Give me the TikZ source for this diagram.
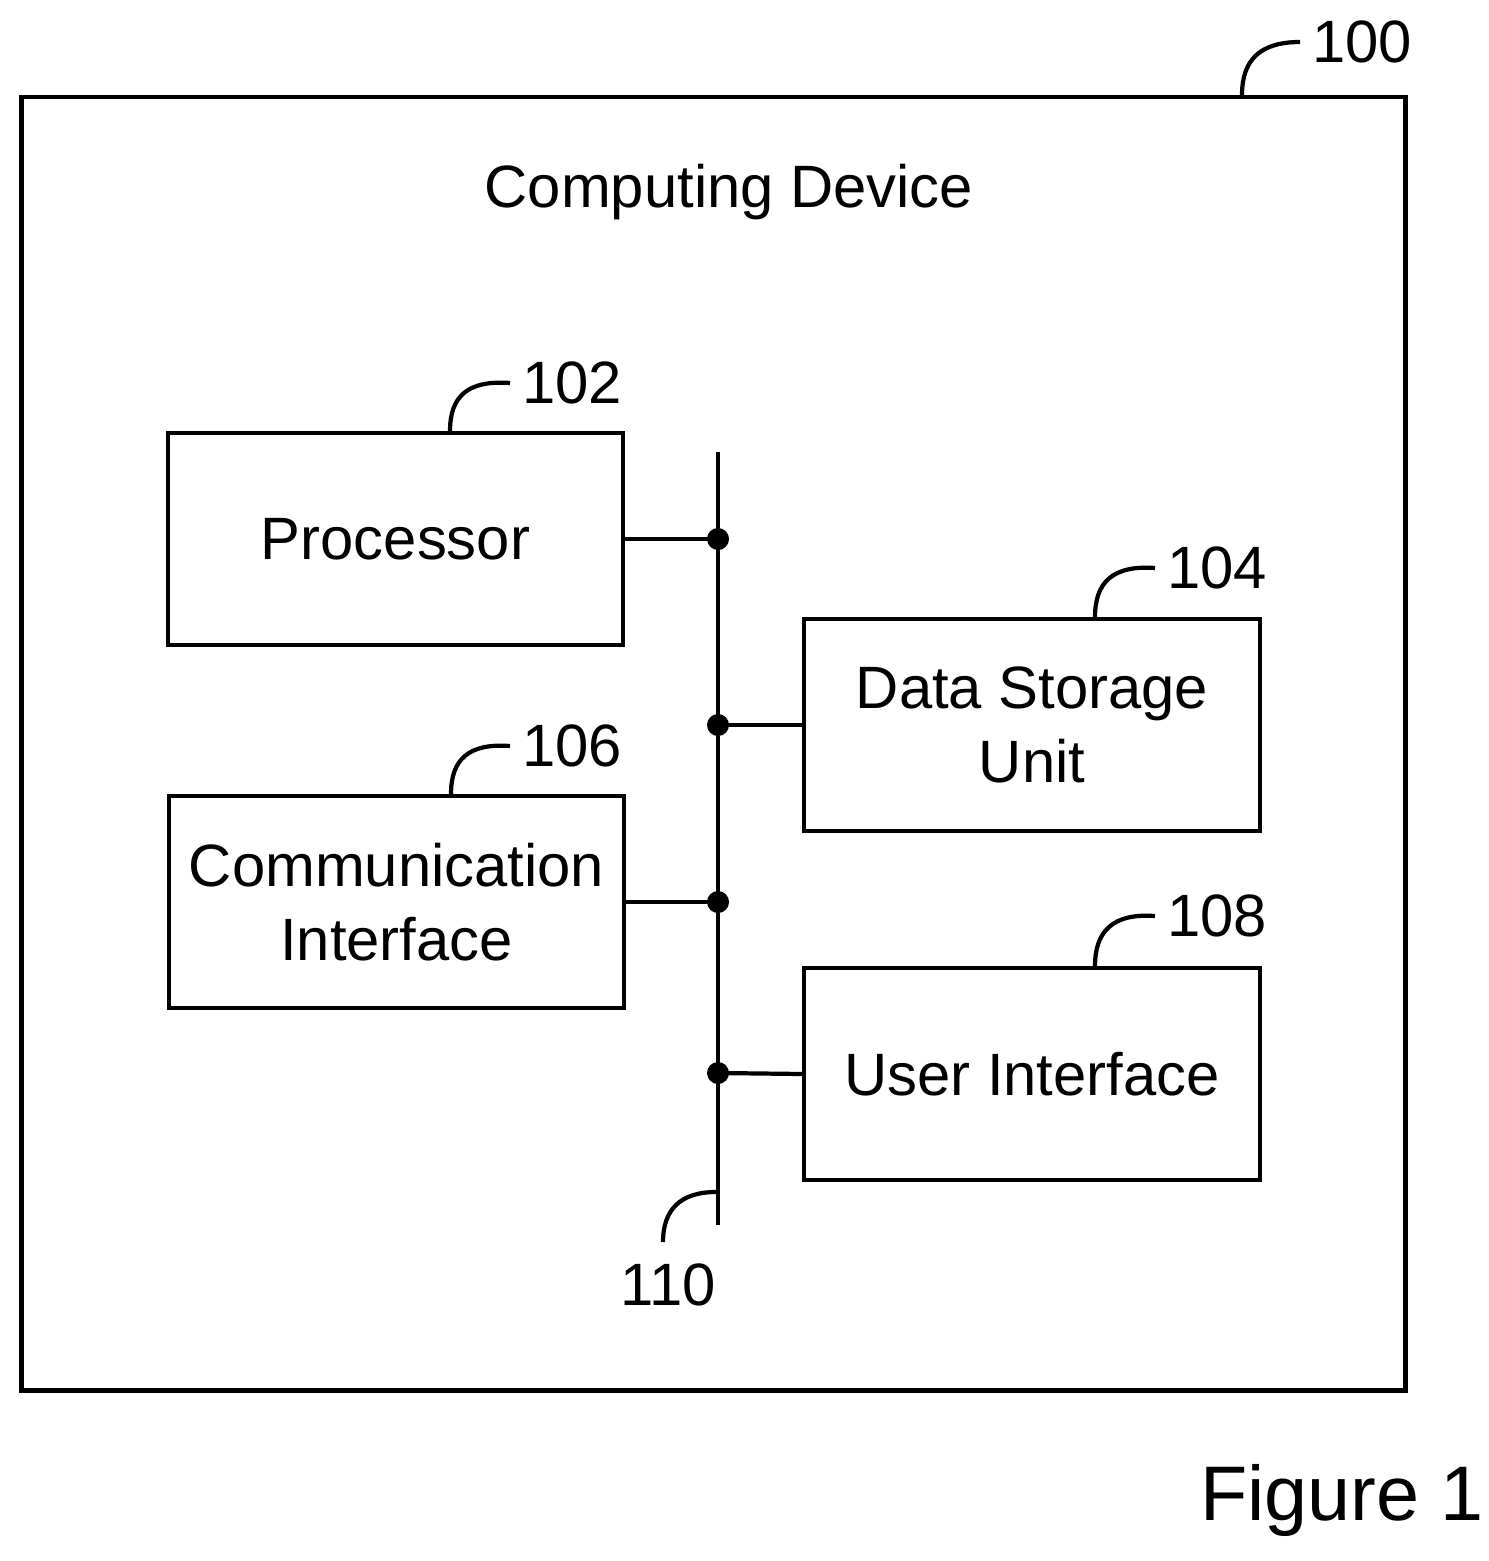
\documentclass[tikz,border=0pt]{standalone}
\usepackage{fontspec}
\setmainfont{Liberation Sans}
\usetikzlibrary{positioning}
\tikzset{%
    unit/.style={rectangle, draw, line width=1.2pt, minimum width=4.55cm, minimum height=2.12cm, align=center, font=\fontsize{17}{21}\selectfont},
    tag/.style={font=\fontsize{17}{21}\selectfont},
    lead/.style={draw, line width=1.2pt},
    bus/.style={draw, line width=1.2pt},
    joint/.style={circle, fill, inner sep=0pt, minimum size=0.22cm}
}
\begin{document}
\begin{tikzpicture}[x=0.01cm, y=-0.01cm]
    \useasboundingbox (0,0) rectangle (1489,1561);

    % outer device
    \node[rectangle, draw, line width=1.2pt, minimum width=13.83cm, minimum height=12.93cm] (dev) at (713.5,743.5) {};
    \node[tag] (devname) at (729,192) {Computing Device};
    \node[tag, anchor=west] (n100) at (1300,42) {100};
    \draw[lead] (1242,95) .. controls (1242,60) and (1260,42) .. (n100.west);

    % units
    \node[unit] (proc) at (395.5,539) {Processor};
    \node[unit] (store) at (1032,725) {Data Storage\\Unit};
    \node[unit] (comm) at (396.5,902) {Communication\\Interface};
    \node[unit] (ui) at (1032,1074) {User Interface};

    % reference numerals
    \node[tag, anchor=west] (n102) at (510,383) {102};
    \draw[lead] (450,431) .. controls (450,396) and (468,380) .. (n102.west);
    \node[tag, anchor=west] (n104) at (1155,568) {104};
    \draw[lead] (1095,617) .. controls (1095,582) and (1113,565) .. (n104.west);
    \node[tag, anchor=west] (n106) at (510,746) {106};
    \draw[lead] (451,794) .. controls (451,759) and (469,743) .. (n106.west);
    \node[tag, anchor=west] (n108) at (1155,916) {108};
    \draw[lead] (1095,966) .. controls (1095,931) and (1113,913) .. (n108.west);

    % bus
    \coordinate (bustop) at (718,452);
    \coordinate (busend) at (718,1225);
    \draw[bus] (bustop) -- (busend);
    \node[joint] (j1) at (718,539) {};
    \node[joint] (j2) at (718,725) {};
    \node[joint] (j3) at (718,902) {};
    \node[joint] (j4) at (718,1073) {};
    \draw[bus] (proc.east) -- (j1.center);
    \draw[bus] (store.west) -- (j2.center);
    \draw[bus] (comm.east) -- (j3.center);
    \draw[bus] (ui.west) -- (j4.center);

    \node[tag] (n110) at (668,1285) {110};
    \coordinate (bushook) at (716,1192);
    \draw[lead] (bushook) .. controls (680,1192) and (663,1210) .. (663,1242);

    \node[font=\fontsize{22}{26}\selectfont] (fig) at (1342,1500) {Figure 1};
\end{tikzpicture}
\end{document}
